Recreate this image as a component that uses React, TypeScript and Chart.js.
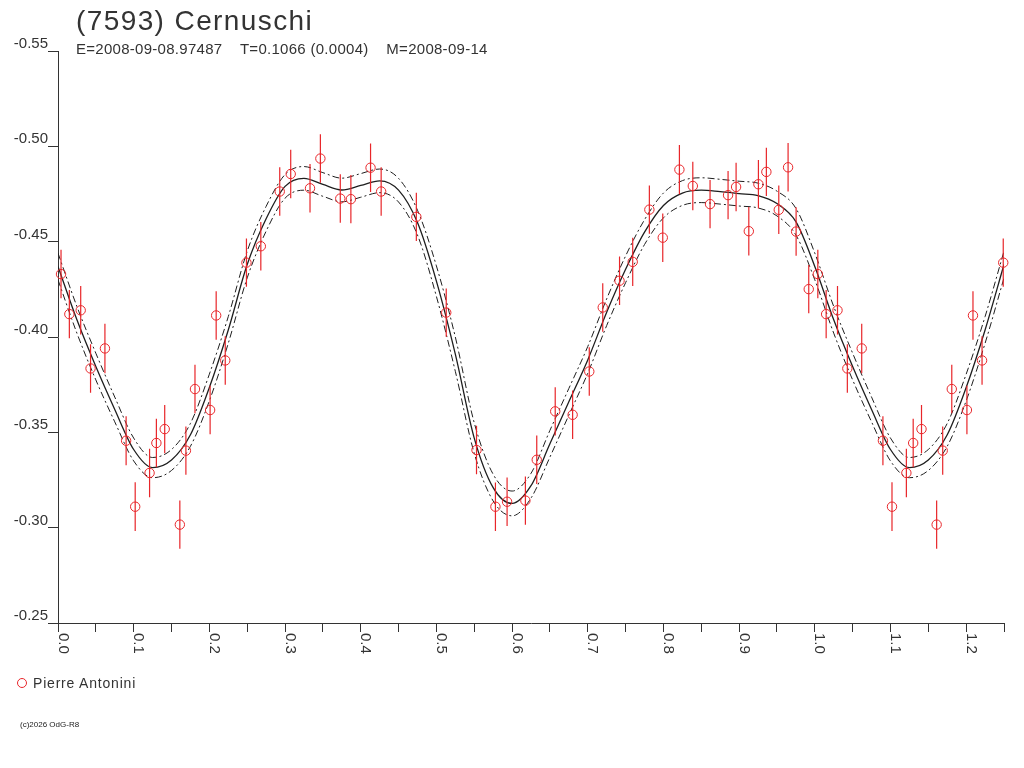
import React, { useEffect, useRef } from "react";
import { Chart, registerables } from "chart.js";

Chart.register(...registerables);

const TITLE = "(7593) Cernuschi";
const SUBTITLE = "E=2008-09-08.97487    T=0.1066 (0.0004)    M=2008-09-14";
const OBSERVER = "Pierre Antonini";
const COPYRIGHT = "(c)2026 OdG-R8";

// Observations: phase, reduced magnitude, error
const obsPhase = [
  0.004, 0.015, 0.03, 0.043, 0.062, 0.09, 0.102, 0.121, 0.13, 0.141,
  0.161, 0.169, 0.181, 0.201, 0.209, 0.221, 0.249, 0.268, 0.293, 0.3075,
  0.333, 0.3467, 0.373, 0.387, 0.413, 0.427, 0.4735, 0.513, 0.553, 0.578,
  0.5934, 0.6176, 0.6326, 0.657, 0.68, 0.702, 0.7198, 0.742, 0.7594, 0.7814,
  0.7991, 0.8211, 0.8388, 0.8616, 0.8854, 0.896, 0.9128, 0.9255, 0.936, 0.9524,
  0.9647, 0.9753, 0.992,
];
const obsMag = [
  -0.433, -0.412, -0.414, -0.3835, -0.394, -0.3456, -0.311, -0.3287, -0.3444, -0.3517,
  -0.3016, -0.3404, -0.3727, -0.3617, -0.4113, -0.3877, -0.439, -0.4476, -0.4763, -0.4855,
  -0.478, -0.4936, -0.4726, -0.4723, -0.4888, -0.4763, -0.463, -0.4128, -0.3407, -0.311,
  -0.3136, -0.3142, -0.3356, -0.361, -0.3592, -0.3819, -0.4155, -0.4295, -0.4394, -0.4668,
  -0.4521, -0.4878, -0.4792, -0.4697, -0.4744, -0.4787, -0.4555, -0.4801, -0.4866, -0.4667,
  -0.489, -0.4553, -0.4251,
];
const obsErr = [
  0.0127, 0.0127, 0.0127, 0.0127, 0.013, 0.0128, 0.0128, 0.0127, 0.0127, 0.0127,
  0.0127, 0.0127, 0.0127, 0.0127, 0.0127, 0.0127, 0.0127, 0.0127, 0.0127, 0.0127,
  0.0127, 0.0127, 0.0127, 0.0127, 0.0127, 0.0127, 0.0127, 0.0127, 0.0127, 0.0127,
  0.0127, 0.0127, 0.0127, 0.0127, 0.0127, 0.0127, 0.0127, 0.0127, 0.0127, 0.0127,
  0.0127, 0.0129, 0.0127, 0.0127, 0.0127, 0.0127, 0.0127, 0.0127, 0.0127, 0.0127,
  0.0127, 0.0127, 0.0127,
];

// Fitted light curve and its uncertainty envelope
const curvePhase = [
  0, 0.025, 0.05, 0.075, 0.1, 0.125, 0.15, 0.175, 0.2, 0.225,
  0.25, 0.275, 0.3, 0.325, 0.35, 0.375, 0.4, 0.425, 0.45, 0.475,
  0.5, 0.525, 0.55, 0.575, 0.6, 0.625, 0.65, 0.675, 0.7, 0.725,
  0.75, 0.775, 0.8, 0.825, 0.85, 0.875, 0.9, 0.925, 0.95, 0.975,
  1.0, 1.025, 1.05, 1.075, 1.1, 1.125, 1.15, 1.175, 1.2, 1.225,
  1.25,
];
const curveMag = [
  -0.437, -0.409, -0.3845, -0.362, -0.341, -0.3315, -0.3355, -0.3487, -0.3735, -0.4037,
  -0.438, -0.462, -0.479, -0.4832, -0.48, -0.4771, -0.4795, -0.4819, -0.477, -0.46,
  -0.4293, -0.391, -0.347, -0.321, -0.3127, -0.322, -0.344, -0.366, -0.388, -0.413,
  -0.4355, -0.455, -0.469, -0.4755, -0.477, -0.4762, -0.4752, -0.4742, -0.47, -0.4605,
  -0.437, -0.409, -0.3845, -0.362, -0.341, -0.3315, -0.3355, -0.3487, -0.3735, -0.4037,
  -0.438,
];
const curveUpper = [
  -0.444, -0.416, -0.3915, -0.3685, -0.347, -0.3368, -0.341, -0.3547, -0.3805, -0.4107,
  -0.445, -0.4685, -0.4852, -0.4894, -0.4862, -0.4833, -0.4857, -0.4881, -0.4832, -0.4665,
  -0.4373, -0.4, -0.355, -0.328, -0.3192, -0.3285, -0.351, -0.373, -0.395, -0.42,
  -0.4425, -0.4615, -0.4755, -0.482, -0.4835, -0.4827, -0.4817, -0.4807, -0.4765, -0.4675,
  -0.444, -0.416, -0.3915, -0.3685, -0.347, -0.3368, -0.341, -0.3547, -0.3805, -0.4107,
  -0.445,
];
const curveLower = [
  -0.43, -0.402, -0.3775, -0.3555, -0.335, -0.3262, -0.33, -0.3427, -0.3665, -0.3967,
  -0.431, -0.4555, -0.4728, -0.477, -0.4738, -0.4709, -0.4733, -0.4757, -0.4708, -0.4535,
  -0.4213, -0.382, -0.339, -0.314, -0.3062, -0.3155, -0.337, -0.359, -0.381, -0.406,
  -0.4285, -0.4485, -0.4625, -0.469, -0.4705, -0.4697, -0.4687, -0.4677, -0.4635, -0.4535,
  -0.43, -0.402, -0.3775, -0.3555, -0.335, -0.3262, -0.33, -0.3427, -0.3665, -0.3967,
  -0.431,
];

const xTickValues = [0, 0.1, 0.2, 0.3, 0.4, 0.5, 0.6, 0.7, 0.8, 0.9, 1.0, 1.1, 1.2];
const xTickLabels = ["0.0", "0.1", "0.2", "0.3", "0.4", "0.5", "0.6", "0.7", "0.8", "0.9", "1.0", "1.1", "1.2"];

const RED = "#e8262a";
const AXIS = "#333333";
const INK = "#333333";
const FONT = '"Liberation Sans", Arial, Helvetica, sans-serif';

export default function App() {
  const ref = useRef<HTMLCanvasElement | null>(null);

  useEffect(() => {
    document.body.style.margin = "0";
    const canvas = ref.current;
    if (!canvas) return;

    const pts: { x: number; y: number; e: number }[] = [];
    obsPhase.forEach((p, i) => pts.push({ x: p, y: obsMag[i], e: obsErr[i] }));
    // phase-folded repeat of the first quarter beyond 1.0
    obsPhase.forEach((p, i) => {
      if (p < 0.25) pts.push({ x: p + 1, y: obsMag[i], e: obsErr[i] });
    });

    const errData: { x: number; y: number | null }[] = [];
    pts.forEach((pt) => {
      errData.push({ x: pt.x, y: pt.y - pt.e }, { x: pt.x, y: pt.y + pt.e }, { x: pt.x, y: null });
    });

    const xLabelPlugin = {
      id: "xRotatedLabels",
      afterDraw(chart: any) {
        const s = chart.scales.x;
        const c = chart.ctx as CanvasRenderingContext2D;
        c.save();
        c.fillStyle = INK;
        c.font = `15px ${FONT}`;
        c.textAlign = "left";
        c.textBaseline = "alphabetic";
        xTickValues.forEach((v, i) => {
          const px = s.getPixelForValue(v);
          c.save();
          c.translate(px + 0.5, s.top + 10);
          c.rotate(Math.PI / 2);
          c.fillText(xTickLabels[i], 0, 0);
          c.restore();
        });
        c.restore();
      },
    };

    const chart = new Chart(canvas, {
      type: "line",
      data: {
        datasets: [
          {
            label: OBSERVER,
            data: pts.map((p) => ({ x: p.x, y: p.y })),
            showLine: false,
            pointRadius: 4.7,
            pointStyle: "circle",
            pointBorderColor: RED,
            pointBackgroundColor: "rgba(0,0,0,0)",
            pointBorderWidth: 1,
            clip: false,
            order: 0,
          } as any,
          {
            label: "err",
            data: errData,
            borderColor: RED,
            borderWidth: 1.2,
            pointRadius: 0,
            spanGaps: false,
            clip: false,
            order: 1,
          } as any,
          {
            label: "fit",
            data: curvePhase.map((p, i) => ({ x: p, y: curveMag[i] })),
            borderColor: "#1e1e1e",
            borderWidth: 1.3,
            pointRadius: 0,
            cubicInterpolationMode: "monotone",
            order: 2,
          } as any,
          {
            label: "upper",
            data: curvePhase.map((p, i) => ({ x: p, y: curveUpper[i] })),
            borderColor: "#1e1e1e",
            borderWidth: 1,
            borderDash: [7, 3, 2, 3],
            pointRadius: 0,
            cubicInterpolationMode: "monotone",
            order: 3,
          } as any,
          {
            label: "lower",
            data: curvePhase.map((p, i) => ({ x: p, y: curveLower[i] })),
            borderColor: "#1e1e1e",
            borderWidth: 1,
            borderDash: [7, 3, 2, 3],
            pointRadius: 0,
            cubicInterpolationMode: "monotone",
            order: 4,
          } as any,
        ],
      },
      options: {
        responsive: false,
        animation: false,
        events: [],
        layout: { padding: { left: 0, top: 51, right: 20, bottom: 105 } },
        plugins: {
          legend: { display: false },
          tooltip: { enabled: false },
          title: { display: false },
        },
        scales: {
          x: {
            type: "linear",
            min: 0,
            max: 1.25,
            ticks: { stepSize: 0.05, display: false },
            grid: {
              display: true,
              drawOnChartArea: false,
              drawTicks: true,
              tickLength: 9,
              color: AXIS,
              lineWidth: 1,
            },
            border: { display: true, color: AXIS, width: 1 },
            afterFit: (s: any) => {
              s.height = 40;
            },
          },
          y: {
            type: "linear",
            reverse: true,
            min: -0.55,
            max: -0.25,
            ticks: {
              stepSize: 0.05,
              padding: 0,
              labelOffset: -7,
              color: INK,
              font: { family: FONT, size: 15 },
              callback: (v: any) => Number(v).toFixed(2),
            },
            grid: {
              display: true,
              drawOnChartArea: false,
              drawTicks: true,
              tickLength: 10,
              color: AXIS,
              lineWidth: 1,
            },
            border: { display: true, color: AXIS, width: 1 },
            afterFit: (s: any) => {
              s.width = 58;
            },
          },
        },
      } as any,
      plugins: [xLabelPlugin],
    });

    return () => chart.destroy();
  }, []);

  return (
    <div style={{ position: "absolute", left: 0, top: 0, width: 1024, height: 768, background: "#fff", overflow: "hidden" }}>
      <canvas ref={ref} width={1024} height={768} style={{ position: "absolute", left: 0, top: 0, width: 1024, height: 768 }} />
      <div style={{ position: "absolute", left: 76, top: 7, fontFamily: FONT, fontSize: 28, lineHeight: "28px", letterSpacing: "1.4px", color: INK, whiteSpace: "pre" }}>
        {TITLE}
      </div>
      <div style={{ position: "absolute", left: 76, top: 41, fontFamily: FONT, fontSize: 15, lineHeight: "15px", letterSpacing: "0.28px", color: INK, whiteSpace: "pre" }}>
        {SUBTITLE}
      </div>
      <div style={{ position: "absolute", left: 17, top: 678, width: 8, height: 8, border: `1px solid ${RED}`, borderRadius: "50%" }} />
      <div style={{ position: "absolute", left: 33, top: 676, fontFamily: FONT, fontSize: 14, lineHeight: "14px", letterSpacing: "0.8px", color: INK, whiteSpace: "pre" }}>
        {OBSERVER}
      </div>
      <div style={{ position: "absolute", left: 20, top: 721, fontFamily: FONT, fontSize: 8, lineHeight: "8px", color: "#222", whiteSpace: "pre" }}>
        {COPYRIGHT}
      </div>
    </div>
  );
}
